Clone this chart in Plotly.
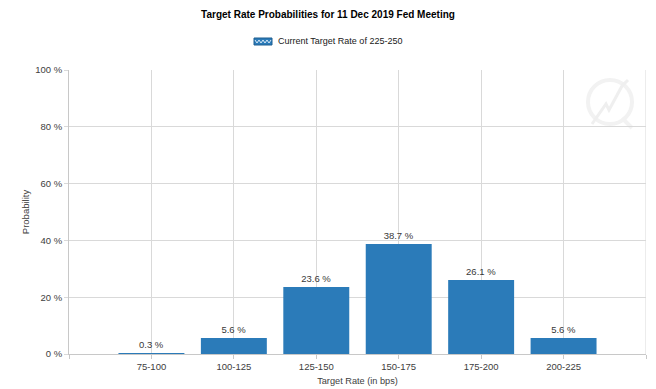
import plotly.graph_objects as go

categories = ["75-100", "100-125", "125-150", "150-175", "175-200", "200-225"]
probabilities = [0.3, 5.6, 23.6, 38.7, 26.1, 5.6]
y_ticks = [0, 20, 40, 60, 80, 100]
y_tick_labels = ["0 %", "20 %", "40 %", "60 %", "80 %", "100 %"]
series_name = "Current Target Rate of 225-250"
title = "Target Rate Probabilities for 11 Dec 2019 Fed Meeting"

BAR = "#2b7bb9"
FONT = "Liberation Sans"
OFF = 8  # page body margin offset
W, H = 656 - OFF, 389 - OFF
L, R, T, B = 69 - OFF, 10, 70 - OFF, 35

idx = list(range(len(categories)))
fig = go.Figure()
fig.add_trace(go.Bar(
    x=idx, y=probabilities, width=0.8, name=series_name,
    marker=dict(color=BAR, line=dict(width=0)),
    text=[f"{v} %" for v in probabilities], textposition="outside",
    textfont=dict(size=9.5, color="#383838", family=FONT),
    cliponaxis=False, showlegend=False, hoverinfo="skip",
))

tickvals = [-1] + idx + [len(categories)]
ticktext = [""] + categories + [""]

fig.update_layout(
    width=W, height=H,
    margin=dict(l=L, r=R, t=T, b=B),
    paper_bgcolor="white", plot_bgcolor="white",
    font=dict(family=FONT, size=9.5, color="#404040"),
    title=dict(text=f"<b>{title}</b>", x=0.5 * 656 / W - OFF / W, xref="container", xanchor="center",
               y=1 - (14 - OFF) / H, yref="container", yanchor="middle",
               font=dict(size=10, color="#000000", family=FONT)),
    showlegend=False,
    xaxis=dict(range=[-1, len(categories)], tickmode="array", tickvals=tickvals, ticktext=ticktext,
               automargin=False,
               showgrid=True, gridcolor="#d9d9d9", gridwidth=1,
               showline=True, linecolor="#c8c8c8", linewidth=1,
               ticks="outside", ticklen=4, tickcolor="#c8c8c8",
               zeroline=False,
               title=dict(text="Target Rate (in bps)", standoff=6, font=dict(size=9.2, color="#404040")),
               tickfont=dict(size=9.5, color="#404040")),
    yaxis=dict(range=[0, 100], tickmode="array", tickvals=y_ticks, ticktext=y_tick_labels,
               automargin=False,
               showgrid=True, gridcolor="#d9d9d9", gridwidth=1,
               showline=True, linecolor="#c8c8c8", linewidth=1,
               ticks="outside", ticklen=4, tickcolor="#d9d9d9",
               zeroline=False,
               title=dict(text="Probability", standoff=3, font=dict(size=9.5, color="#404040")),
               tickfont=dict(size=9.5, color="#404040")),
)

# right border at the last category slot
fig.add_shape(type="line", xref="x", yref="paper", x0=len(categories), x1=len(categories), y0=0, y1=1,
              line=dict(color="#d9d9d9", width=1), layer="below")

# helpers: reference-window pixel -> paper coords
PW, PH = W - L - R, H - T - B
def px(x):
    return (x - OFF - L) / PW
def py(y):
    return (H - B - (y - OFF)) / PH

# manual legend (patterned swatch + label)
sx0, sx1, sy0, sy1 = 254, 272, 38, 45
fig.add_shape(type="rect", xref="paper", yref="paper", x0=px(sx0), x1=px(sx1), y0=py(sy1), y1=py(sy0),
              fillcolor=BAR, line=dict(color="#1f5f90", width=1), layer="above")
zz = "M %f,%f" % (px(sx0 + 1), py(sy0 + 2))
x = sx0 + 1
up = False
while x < sx1 - 2:
    x += 2
    zz += " L %f,%f" % (px(x), py(sy1 - 2 if not up else sy0 + 2))
    up = not up
fig.add_shape(type="path", xref="paper", yref="paper", path=zz,
              line=dict(color="#d6e8f7", width=1), layer="above")
fig.add_annotation(xref="paper", yref="paper", x=px(276), y=py(41), xanchor="left", yanchor="middle",
                   text=series_name, showarrow=False, font=dict(size=9, color="#202020", family=FONT))

# faint watermark logo top-right
fig.add_shape(type="circle", xref="paper", yref="paper",
              x0=px(588), x1=px(632), y0=py(124), y1=py(80),
              line=dict(color="#f2f2f2", width=4), layer="below")
fig.add_shape(type="path", xref="paper", yref="paper",
              path="M %f,%f L %f,%f L %f,%f L %f,%f L %f,%f" % (
                  px(592), py(124), px(606), py(104), px(609), py(110), px(622), py(86), px(628), py(80)),
              line=dict(color="#efefef", width=3), layer="below")
fig.add_shape(type="line", xref="paper", yref="paper", x0=px(622), x1=px(632), y0=py(118), y1=py(128),
              line=dict(color="#f2f2f2", width=4), layer="below")

fig.write_html("out.html")
